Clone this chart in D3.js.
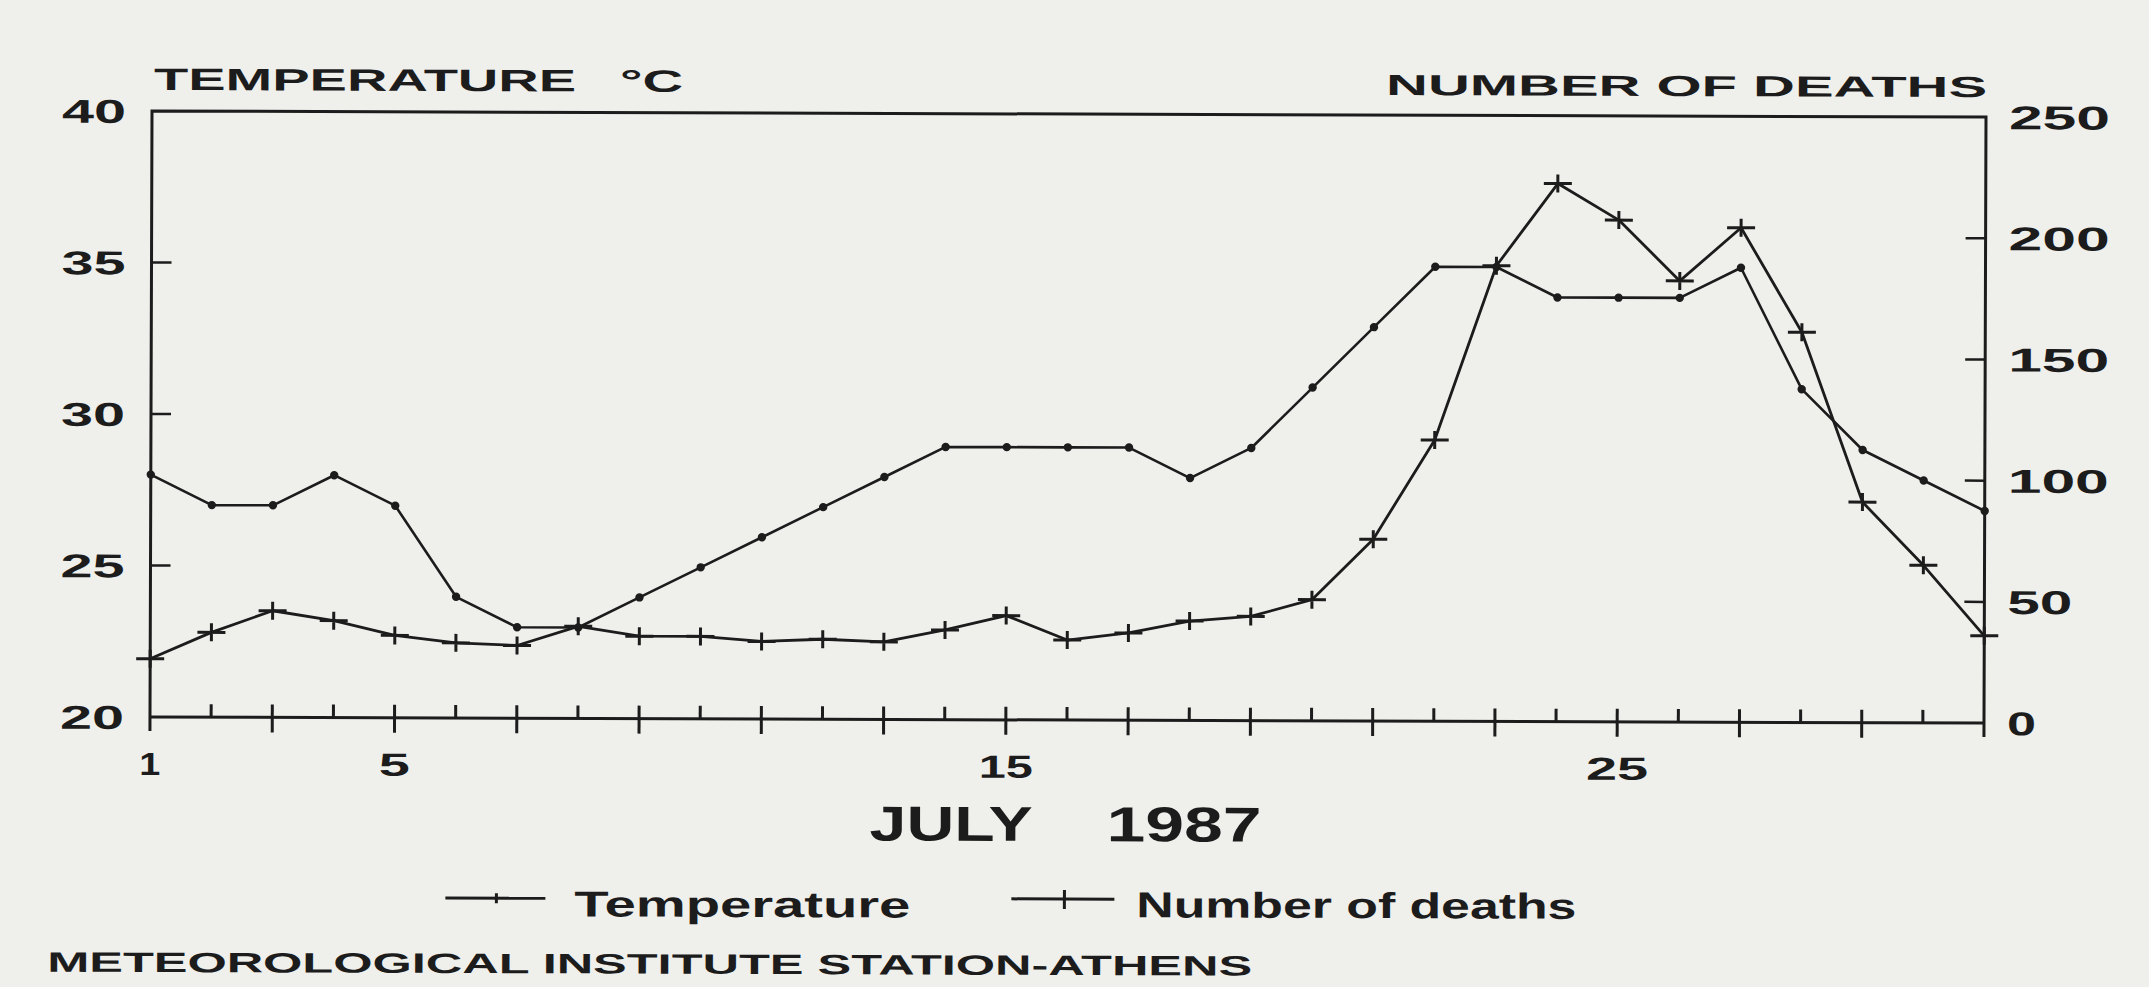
<!DOCTYPE html>
<html>
<head>
<meta charset="utf-8">
<script src="https://cdn.jsdelivr.net/npm/d3@7"></script>
<style>
html, body { margin: 0; padding: 0; background: #efefec; }
svg { display: block; }
text { font-family: "Liberation Sans", Arial, sans-serif; font-weight: bold; fill: #1c1c1c; }
</style>
</head>
<body>
<svg id="chart" width="2149" height="987"></svg>
<script>
// July 1987, Athens: daily temperature and number of deaths
const days = [1, 2, 3, 4, 5, 6, 7, 8, 9, 10, 11, 12, 13, 14, 15, 16,
  17, 18, 19, 20, 21, 22, 23, 24, 25, 26, 27, 28, 29, 30, 31];
const temperature = [28, 27, 27, 28, 27, 24, 23, 23, 24, 25, 26, 27, 28, 29, 29, 29,
  29, 28, 29, 31, 33, 35, 35, 34, 34, 34, 35, 31, 29, 28, 27];
const deaths = [24, 35, 44, 40, 34, 31, 30, 38, 34, 34, 32, 33, 32, 37, 43, 33,
  36, 41, 43, 50, 75, 116, 188, 222, 207, 182, 204, 161, 91, 65, 36];

const tempTicks = [20, 25, 30, 35, 40];
const deathTicks = [0, 50, 100, 150, 200, 250];
const dayLabels = [1, 5, 15, 25];

const ink = "#1c1c1c";
const svg = d3.select("#chart");

const x = d3.scaleLinear().domain([1, 31]).range([150, 1984]);
const yT = d3.scaleLinear().domain([20, 40]).range([717, 111]);
const yD = d3.scaleLinear().domain([0, 250]).range([717, 111]);

// the scan is a little tilted, so the whole figure is too
const g = svg.append("g").attr("transform", "rotate(0.19,150,717)");

// frame
g.append("path")
  .attr("d", `M${x(1)},${yT(20) + 14}V${yT(40)}H${x(31)}V${yD(0) + 14}`)
  .attr("fill", "none").attr("stroke", ink).attr("stroke-width", 3);
g.append("path")
  .attr("d", `M${x(1)},${yT(20)}H${x(31)}`)
  .attr("stroke", ink).attr("stroke-width", 3);

// inner ticks on the two y axes
g.selectAll(".lt").data(tempTicks.filter(v => v > 20 && v < 40)).join("line")
  .attr("x1", x(1)).attr("x2", x(1) + 20)
  .attr("y1", d => yT(d)).attr("y2", d => yT(d))
  .attr("stroke", ink).attr("stroke-width", 2.5);
g.selectAll(".rt").data(deathTicks.filter(v => v > 0 && v < 250)).join("line")
  .attr("x1", x(31) - 20).attr("x2", x(31))
  .attr("y1", d => yD(d)).attr("y2", d => yD(d))
  .attr("stroke", ink).attr("stroke-width", 2.5);

// day ticks: odd days cross the axis, even days only stand on it
g.selectAll(".dt").data(days.filter(d => d > 1 && d < 31)).join("line")
  .attr("x1", d => x(d)).attr("x2", d => x(d))
  .attr("y1", yT(20) - 13)
  .attr("y2", d => d % 2 ? yT(20) + 15 : yT(20))
  .attr("stroke", ink).attr("stroke-width", 3);

// tick labels
g.selectAll(".ll").data(tempTicks).join("text")
  .attr("x", 124).attr("y", d => yT(d) + 12)
  .attr("text-anchor", "end").attr("font-size", 33)
  .attr("textLength", 64).attr("lengthAdjust", "spacingAndGlyphs")
  .text(d => d);
g.selectAll(".rl").data(deathTicks).join("text")
  .attr("x", 2007).attr("y", d => yD(d) + 12)
  .attr("font-size", 33)
  .attr("textLength", d => String(d).length * 36 - 7).attr("lengthAdjust", "spacingAndGlyphs")
  .text(d => d);
const dayLabelWidth = {1: 21, 5: 31, 15: 54, 25: 62};
g.selectAll(".xl").data(dayLabels).join("text")
  .attr("x", d => x(d)).attr("y", 775)
  .attr("text-anchor", "middle").attr("font-size", 32)
  .attr("textLength", d => dayLabelWidth[d]).attr("lengthAdjust", "spacingAndGlyphs")
  .text(d => d);

// axis titles
function label(txt, tx, ty, size, len) {
  return g.append("text").attr("x", tx).attr("y", ty)
    .attr("font-size", size)
    .attr("textLength", len).attr("lengthAdjust", "spacingAndGlyphs")
    .text(txt);
}
label("TEMPERATURE", 152, 90, 31, 422);
label("°C", 618, 90, 31, 63);
label("NUMBER OF DEATHS", 1384, 91, 29, 601);
label("JULY", 870, 838, 49, 163);
label("1987", 1107, 838, 49, 155);

// series
const tempLine = d3.line().x((d, i) => x(days[i])).y(d => yT(d));
const deathLine = d3.line().x((d, i) => x(days[i])).y(d => yD(d));

g.append("path").datum(temperature).attr("d", tempLine)
  .attr("fill", "none").attr("stroke", ink).attr("stroke-width", 2.6)
  .attr("stroke-linejoin", "round");
g.append("path").datum(deaths).attr("d", deathLine)
  .attr("fill", "none").attr("stroke", ink).attr("stroke-width", 2.8)
  .attr("stroke-linejoin", "round");

g.selectAll(".tm").data(temperature).join("circle")
  .attr("cx", (d, i) => x(days[i])).attr("cy", d => yT(d))
  .attr("r", 4.2).attr("fill", ink);
g.selectAll(".dm").data(deaths).join("path")
  .attr("transform", (d, i) => `translate(${x(days[i])},${yD(d)})`)
  .attr("d", "M-14,0H14M0,-9V9")
  .attr("stroke", ink).attr("stroke-width", 3);

// legend
const leg = g.append("g");
leg.append("path").attr("d", "M446,897H546").attr("stroke", ink).attr("stroke-width", 3);
leg.append("path").attr("d", "M497,892V902").attr("stroke", ink).attr("stroke-width", 3);
leg.append("text").attr("x", 575).attr("y", 915).attr("font-size", 36)
  .attr("textLength", 336).attr("lengthAdjust", "spacingAndGlyphs").text("Temperature");
leg.append("path").attr("d", "M1012,896H1115").attr("stroke", ink).attr("stroke-width", 3);
leg.append("path").attr("d", "M1065,887V906").attr("stroke", ink).attr("stroke-width", 3);
leg.append("text").attr("x", 1137).attr("y", 914).attr("font-size", 36)
  .attr("textLength", 440).attr("lengthAdjust", "spacingAndGlyphs").text("Number of deaths");

// source line
label("METEOROLOGICAL INSTITUTE STATION-ATHENS", 48, 972, 28, 1205);
</script>
</body>
</html>
